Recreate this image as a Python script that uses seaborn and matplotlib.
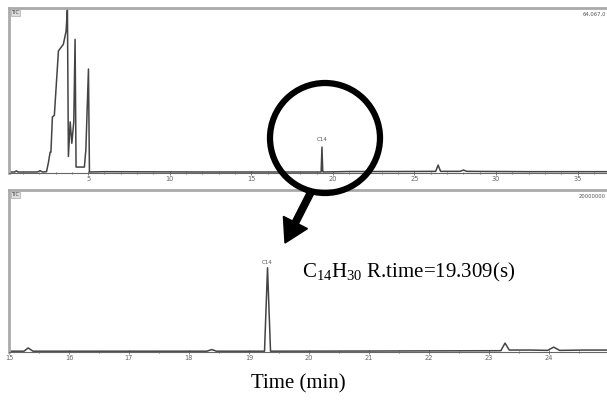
import numpy as np
import pandas as pd
import matplotlib
matplotlib.use("Agg")
import matplotlib.pyplot as plt
import seaborn as sns
from matplotlib.patches import Circle, FancyArrow

# ---- data ----
# top chromatogram (full run), time in min, intensity in % of panel height
top_time = [0.2, 0.5, 0.6, 0.7, 1.9, 2.05, 2.2, 2.45, 2.56, 2.67, 2.72, 2.81, 2.93, 3.18,
            3.48, 3.65, 3.73, 3.79, 3.90, 4.00, 4.12, 4.20, 4.26, 4.77, 4.86, 5.02, 5.08,
            6.0, 12.0, 18.0, 19.28, 19.33, 19.38, 19.43, 21.0, 24.0, 26.3, 26.45, 26.6,
            27.8, 28.0, 28.2, 32.0, 37.0]
top_int = [0.6, 0.6, 1.3, 0.6, 0.6, 1.4, 0.6, 0.8, 6.0, 12.6, 12.6, 34.0, 35.0, 74.0,
           78.0, 86.0, 100.0, 10.0, 31.0, 18.0, 31.0, 81.0, 3.6, 3.6, 14.0, 63.0, 0.6,
           0.8, 0.6, 0.6, 0.6, 15.7, 0.8, 0.6, 0.9, 0.9, 1.0, 4.8, 1.0,
           1.0, 1.8, 1.0, 0.8, 0.8]

# bottom chromatogram (zoom 15-25 min)
bot_time = [15.0, 15.25, 15.32, 15.40, 16.5, 18.3, 18.38, 18.46, 19.26, 19.31, 19.36,
            21.0, 23.2, 23.27, 23.34, 23.7, 23.98, 24.08, 24.18, 24.6, 25.0]
bot_int = [0.5, 0.5, 2.5, 0.5, 0.5, 0.5, 1.5, 0.5, 0.5, 52.0, 0.5,
           0.6, 0.8, 5.5, 1.2, 1.2, 1.0, 3.0, 1.0, 1.2, 1.2]

top_ticks = [5, 10, 15, 20, 25, 30, 35]
bot_ticks = [15, 16, 17, 18, 19, 20, 21, 22, 23, 24]
peak_label = "C14"
annotation = r"$\mathregular{C_{14}H_{30}}$ R.time=19.309(s)"
xlabel = "Time (min)"

sns.set_theme(style="white")
plt.rcParams["font.family"] = ["DejaVu Sans"]

W, H = 607, 401
fig = plt.figure(figsize=(W / 100, H / 100), dpi=100)

def px_axes(left, top, right, bottom):
    return fig.add_axes([left / W, (H - bottom) / H, (right - left) / W, (bottom - top) / H])

ax1 = px_axes(9, 8, 607, 173)
ax2 = px_axes(9, 190, 607, 352)

df_top = pd.DataFrame({"t": top_time, "v": top_int})
df_bot = pd.DataFrame({"t": bot_time, "v": bot_int})

sns.lineplot(data=df_top, x="t", y="v", ax=ax1, color="#444444", lw=1.1, sort=False)
sns.lineplot(data=df_bot, x="t", y="v", ax=ax2, color="#444444", lw=1.1, sort=False)

ax1.set_xlim(0.15, 36.8)
ax1.set_ylim(0, 100)
ax2.set_xlim(15, 24.97)
ax2.set_ylim(0, 100)

for ax, ticks, minor in ((ax1, top_ticks, np.arange(1, 37, 1)), (ax2, bot_ticks, np.arange(15.5, 25, 0.5))):
    ax.set_xticks(ticks)
    ax.set_xticklabels([str(t) for t in ticks])
    ax.set_xticks(minor, minor=True)
    ax.set_yticks([])
    ax.set_xlabel("")
    ax.set_ylabel("")
    ax.tick_params(axis="x", which="both", direction="inout", length=2.5, width=0.6,
                   colors="#666666", labelsize=4.8, pad=1, bottom=True)
    ax.tick_params(axis="x", which="minor", length=1.8)
    for s in ("top", "left"):
        ax.spines[s].set_color("#aaaaaa")
        ax.spines[s].set_linewidth(2.0)
    ax.spines["right"].set_visible(False)
    ax.spines["bottom"].set_color("#666666")
    ax.spines["bottom"].set_linewidth(0.8)
    ax.patch.set_alpha(0)

# small corner labels
ax1.text(0.004, 0.985, "TIC", transform=ax1.transAxes, fontsize=3.5, va="top", ha="left", color="#444444",
         bbox=dict(boxstyle="square,pad=0.1", fc="#dddddd", ec="#999999", lw=0.4))
ax2.text(0.004, 0.985, "TIC", transform=ax2.transAxes, fontsize=3.5, va="top", ha="left", color="#444444",
         bbox=dict(boxstyle="square,pad=0.1", fc="#dddddd", ec="#999999", lw=0.4))
ax1.text(0.998, 0.975, "64,067,0", transform=ax1.transAxes, fontsize=3.8, va="top", ha="right", color="#555555")
ax2.text(0.998, 0.975, "20000000", transform=ax2.transAxes, fontsize=3.8, va="top", ha="right", color="#555555")

# peak labels
ax1.text(19.33, 18.5, peak_label, fontsize=4, ha="center", va="bottom", color="#555555")
ax2.text(19.31, 54.0, peak_label, fontsize=4, ha="center", va="bottom", color="#555555")

# circle and arrow in figure pixel space
tr = fig.dpi_scale_trans
circ = Circle((325 / 100, (H - 138) / 100), 0.55, fill=False, lw=4.5, ec="black", transform=tr)
fig.add_artist(circ)
arr = FancyArrow(3.12, (H - 190) / 100, 2.85 - 3.12, ((H - 243) - (H - 190)) / 100,
                 width=0.065, head_width=0.27, head_length=0.23, length_includes_head=True,
                 color="black", transform=tr)
fig.add_artist(arr)

fig.text(302 / W, (H - 272) / H, annotation, fontsize=15, family=["Liberation Serif"],
         ha="left", va="center", color="black")
fig.text(298 / W, (H - 384) / H, xlabel, fontsize=15, family=["Liberation Serif"],
         ha="center", va="center", color="black")

fig.savefig("out.png", dpi=100)
